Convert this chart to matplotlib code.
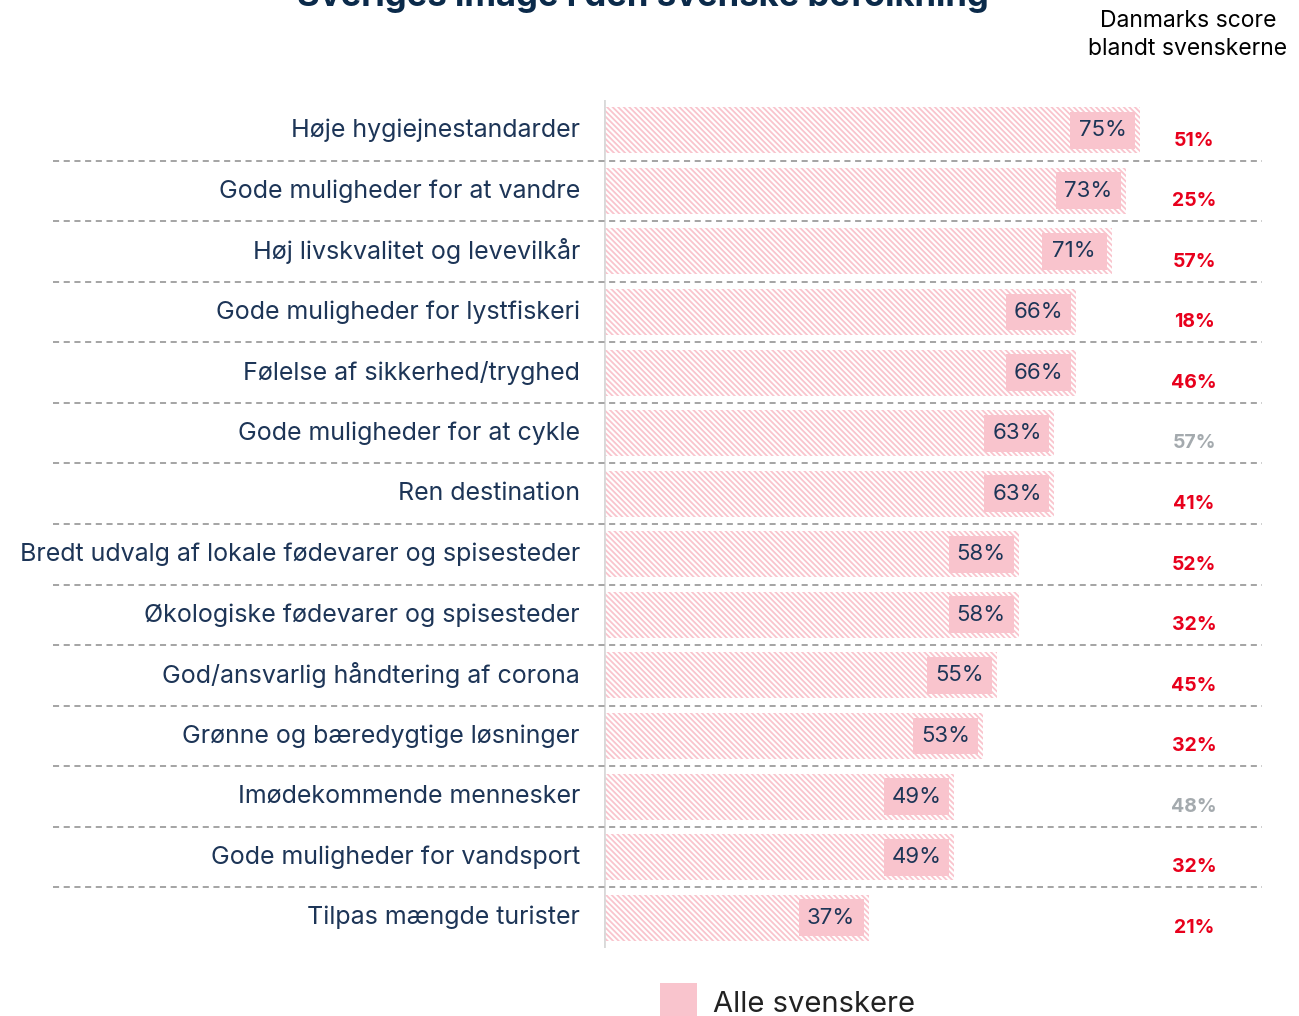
import matplotlib
matplotlib.use("Agg")
import matplotlib.pyplot as plt
from matplotlib.transforms import blended_transform_factory

plt.rcParams['font.family'] = ['Inter', 'DejaVu Sans']
plt.rcParams['hatch.linewidth'] = 1.3
plt.rcParams['hatch.color'] = '#f7b9c5'

# data
categories = [
    "Høje hygiejnestandarder",
    "Gode muligheder for at vandre",
    "Høj livskvalitet og levevilkår",
    "Gode muligheder for lystfiskeri",
    "Følelse af sikkerhed/tryghed",
    "Gode muligheder for at cykle",
    "Ren destination",
    "Bredt udvalg af lokale fødevarer og spisesteder",
    "Økologiske fødevarer og spisesteder",
    "God/ansvarlig håndtering af corona",
    "Grønne og bæredygtige løsninger",
    "Imødekommende mennesker",
    "Gode muligheder for vandsport",
    "Tilpas mængde turister",
]
sverige = [75, 73, 71, 66, 66, 63, 63, 58, 58, 55, 53, 49, 49, 37]
danmark = [51, 25, 57, 18, 46, 57, 41, 52, 32, 45, 32, 48, 32, 21]
danmark_grey = [False, False, False, False, False, True, False, False, False, False, False, True, False, False]

navy = '#1d3557'
pink = '#f9c4cd'
red = '#e8001c'
grey = '#a4aaae'

W, H = 1299, 1016
fig = plt.figure(figsize=(W / 100, H / 100), dpi=100)
ax = fig.add_axes([604 / W, 1 - 948 / H, 600 / W, 848 / H])
ax.set_xlim(0, 600 / 7.15)
ax.set_ylim(len(categories) - 0.5, -0.5)
ax.axis('off')

ypos = list(range(len(categories)))

# hatched bars
ax.barh(ypos, sverige, height=0.76, color='white', edgecolor=pink,
        hatch='\\\\\\\\\\\\', linewidth=0)

# solid label boxes at the end of each bar
box_w = 65 / 7.15
box_off = 5 / 7.15
ax.barh(ypos, [box_w] * len(sverige),
        left=[v - box_off - box_w for v in sverige],
        height=0.61, color=pink, linewidth=0)
for y, v in zip(ypos, sverige):
    ax.text(v - box_off - box_w / 2, y, f"{v}%", ha='center', va='center',
            fontsize=16, color=navy)

# vertical axis line
ax.axvline(0, color='#d9d9d9', linewidth=2)

figx = blended_transform_factory(fig.transFigure, ax.transData)

# category labels
for y, c in zip(ypos, categories):
    ax.text(580 / W, y, c, transform=figx, ha='right', va='center',
            fontsize=18, color=navy)

# dashed separators
for i in range(len(categories) - 1):
    ax.plot([53 / W, 1262 / W], [i + 0.5, i + 0.5], transform=figx,
            color='#8c8c8c', linestyle=(0, (4, 3)), linewidth=1.1, clip_on=False)

# Denmark scores
for y, d, g in zip(ypos, danmark, danmark_grey):
    ax.text(1194 / W, y + 0.17, f"{d}%", transform=figx, ha='center', va='center',
            fontsize=14, fontweight='bold', color=grey if g else red)

fig.text(1188 / W, 1 - 35 / H, "Danmarks score\nblandt svenskerne", ha='center',
         va='center', fontsize=16.5, color='black', linespacing=1.3)

# title (partly cut off at the top)
fig.text(643 / W, 1 - 6 / H, "Sveriges image i den svenske befolkning", ha='center',
         va='baseline', fontsize=25, fontweight='bold', color='#0b2a4a')

# legend
fig.patches.append(plt.Rectangle((660 / W, 0), 37 / W, 33 / H, transform=fig.transFigure,
                                 facecolor=pink, edgecolor='none'))
fig.text(713 / W, 1 - 1004 / H, "Alle svenskere", ha='left', va='center',
         fontsize=21, color='#222222')

fig.savefig('out.png', dpi=100)
